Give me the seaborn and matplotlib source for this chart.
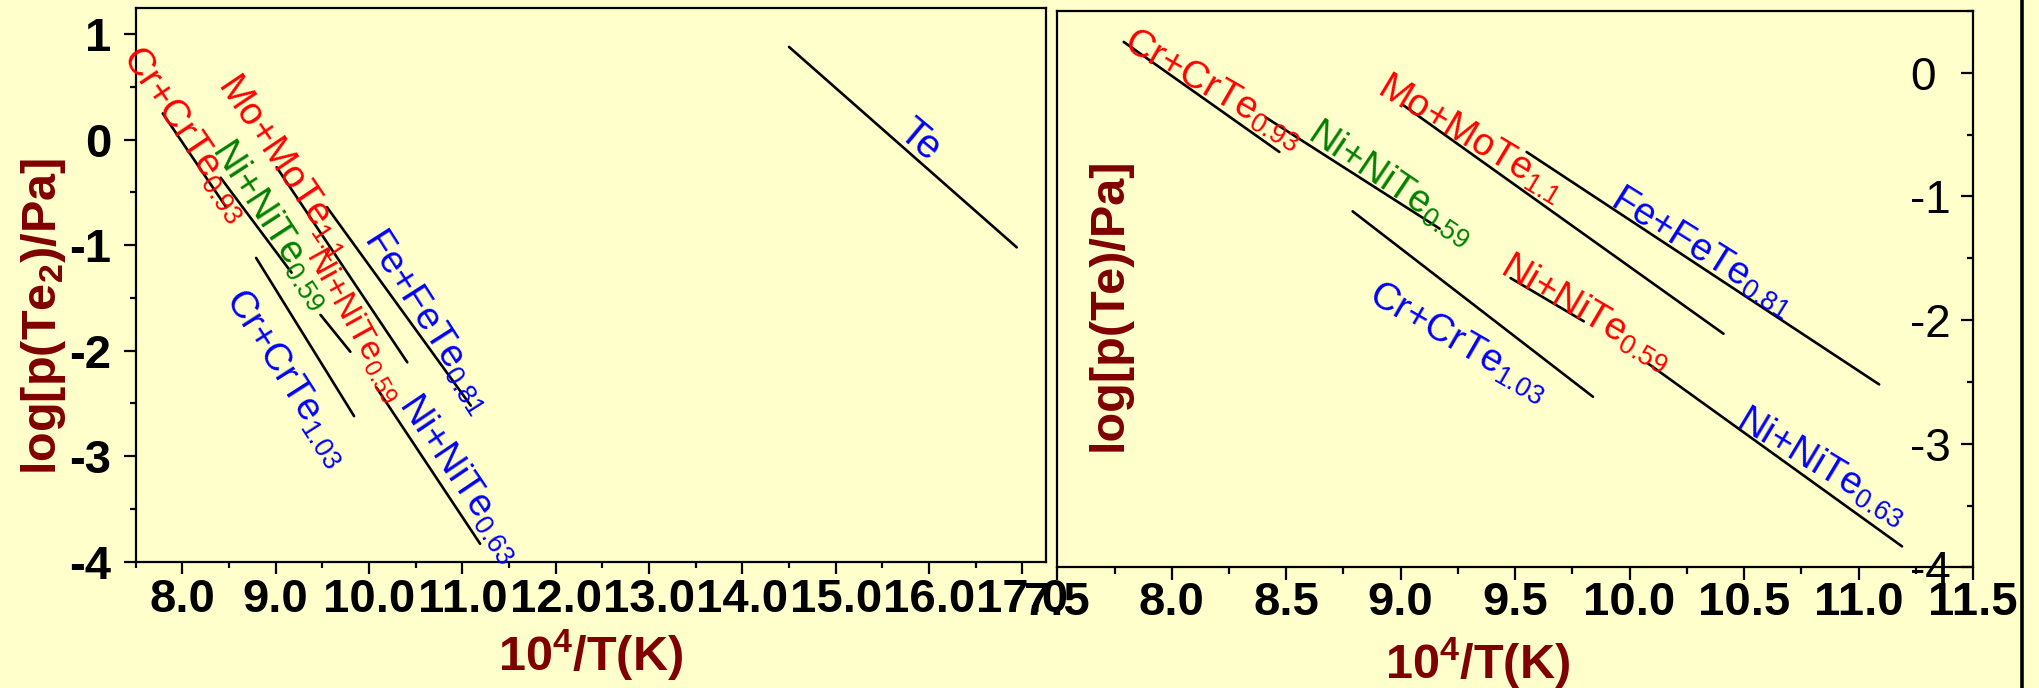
import numpy as np
import pandas as pd
import matplotlib
matplotlib.use("Agg")
import matplotlib.pyplot as plt
import seaborn as sns
from matplotlib.ticker import MultipleLocator, FormatStrFormatter
from matplotlib.lines import Line2D

# ---------------- data ----------------
systems = ["Cr+CrTe0.93", "Ni+NiTe0.59 (a)", "Mo+MoTe1.1", "Fe+FeTe0.81",
           "Cr+CrTe1.03", "Ni+NiTe0.59 (b)", "Ni+NiTe0.63"]
x_start = [7.79, 8.41, 9.01, 9.55, 8.79, 9.48, 10.08]
x_end = [8.47, 9.17, 10.41, 11.09, 9.84, 9.80, 11.19]
logp_start = [0.25, -0.36, -0.26, -0.64, -1.12, -1.66, -2.35]
logp_end = [-0.64, -1.26, -2.11, -2.52, -2.62, -2.01, -3.83]

te_x = [14.50, 16.94]
te_logp = [0.88, -1.02]

label_texts = ["Cr+CrTe$_{\\mathit{0.93}}$", "Ni+NiTe$_{\\mathit{0.59}}$",
               "Mo+MoTe$_{\\mathit{1.1}}$", "Fe+FeTe$_{\\mathit{0.81}}$",
               "Cr+CrTe$_{\\mathit{1.03}}$", "Ni+NiTe$_{\\mathit{0.59}}$",
               "Ni+NiTe$_{\\mathit{0.63}}$"]
label_colors = ["#FF0000", "#008000", "#FF0000", "#0000FF",
                "#0000FF", "#FF0000", "#0000FF"]

left_xticks_step = 1.0
right_xticks_step = 0.5

# label placement (layout): centre in data coords + screen angle
left_lab_x = [8.04, 8.96, 9.09, 10.63, 9.12, 9.85, 10.98]
left_lab_y = [0.06, -0.80, -0.25, -1.72, -2.26, -1.75, -3.21]
left_lab_rot = [-56, -57, -56, -57.5, -57.5, -61, -56]
left_lab_size = [27.5, 27.5, 27.5, 27.5, 27.5, 24.5, 27.5]

right_lab_x = [8.18, 8.96, 9.31, 10.32, 9.25, 9.81, 10.84]
right_lab_y = [-0.13, -0.89, -0.53, -1.45, -2.18, -1.94, -3.18]
right_lab_rot = [-30, -34, -31, -32, -30, -30.5, -31]

# ---------------- style ----------------
sns.set_theme(style="ticks")
BG = "#FFFFCC"
plt.rcParams.update({
    "font.family": ["Liberation Sans", "DejaVu Sans"],
    "font.weight": "bold",
    "axes.unicode_minus": False,
    "mathtext.fontset": "custom",
    "mathtext.rm": "Liberation Sans:weight=normal",
    "mathtext.it": "Liberation Sans:style=italic:weight=normal",
    "mathtext.bf": "Liberation Sans:weight=bold",
    "axes.edgecolor": "black",
    "axes.linewidth": 1.6,
    "xtick.color": "black",
    "ytick.color": "black",
    "axes.facecolor": BG,
    "figure.facecolor": BG,
})

df = pd.DataFrame({
    "system": np.repeat(systems, 2),
    "x": np.ravel(np.column_stack([x_start, x_end])),
    "logp": np.ravel(np.column_stack([logp_start, logp_end])),
})
df_te = pd.DataFrame({"system": ["Te", "Te"], "x": te_x, "logp": te_logp})

fig = plt.figure(figsize=(20.39, 6.88), dpi=100)
ax1 = fig.add_axes([0.06655, 0.18358, 0.4463, 0.80494])
ax2 = fig.add_axes([0.51854, 0.17529, 0.44909, 0.80872])

for ax in (ax1, ax2):
    ax.set_facecolor(BG)
    sns.lineplot(data=df, x="x", y="logp", units="system", estimator=None,
                 color="black", linewidth=1.9, sort=False, legend=False, ax=ax)
    for s in ax.spines.values():
        s.set_visible(True)
        s.set_color("black")
        s.set_linewidth(1.6)

sns.lineplot(data=df_te, x="x", y="logp", units="system", estimator=None,
             color="black", linewidth=1.9, sort=False, legend=False, ax=ax1)

# ---------- left panel ----------
ax1.set_xlim(7.5, 17.25)
ax1.set_ylim(-4, 1.25)
ax1.xaxis.set_major_locator(MultipleLocator(left_xticks_step))
ax1.xaxis.set_minor_locator(MultipleLocator(left_xticks_step / 2))
ax1.xaxis.set_major_formatter(FormatStrFormatter("%.1f"))
ax1.yaxis.set_major_locator(MultipleLocator(1))
ax1.yaxis.set_minor_locator(MultipleLocator(0.5))
ax1.yaxis.set_major_formatter(FormatStrFormatter("%d"))
ax1.tick_params(axis="both", which="both", direction="out", width=1.6,
                top=False, right=False, labelsize=34)
ax1.tick_params(axis="both", which="major", length=8.6)
ax1.tick_params(axis="both", which="minor", length=4.3)
ax1.tick_params(axis="x", which="major", pad=3)
ax1.tick_params(axis="y", which="major", pad=9)

ax1.set_xlabel("10$^{\\mathbf{4}}$/T(K)", color="#800000", fontsize=35,
               fontweight="bold")
ax1.xaxis.set_label_coords(0.5, -0.12)
ax1.set_ylabel("log[p(Te$_{\\mathbf{2}}$)/Pa]", color="#800000", fontsize=35,
               fontweight="bold")
ax1.yaxis.set_label_coords(-0.0744, 0.4437)

for t, c, x, y, r, fs in zip(label_texts, label_colors, left_lab_x,
                             left_lab_y, left_lab_rot, left_lab_size):
    ax1.text(x, y, t, color=c, fontsize=fs, fontweight="normal", rotation=r,
             rotation_mode="anchor", ha="center", va="center")
ax1.text(15.90, 0.0, "Te", color="#0000FF", fontsize=29,
         fontweight="normal", rotation=-40, rotation_mode="anchor",
         ha="center", va="center")

# ---------- right panel ----------
ax2.set_xlim(7.5, 11.5)
ax2.set_ylim(-4, 0.5)
ax2.xaxis.set_major_locator(MultipleLocator(right_xticks_step))
ax2.xaxis.set_minor_locator(MultipleLocator(right_xticks_step / 2))
ax2.xaxis.set_major_formatter(FormatStrFormatter("%.1f"))
ax2.yaxis.set_major_locator(MultipleLocator(1))
ax2.yaxis.set_minor_locator(MultipleLocator(0.5))
ax2.yaxis.set_major_formatter(FormatStrFormatter("%d"))
ax2.tick_params(axis="x", which="both", direction="out", width=1.6,
                top=False, bottom=True, labelsize=34, pad=1)
ax2.tick_params(axis="x", which="major", length=9)
ax2.tick_params(axis="x", which="minor", length=4.8)
ax2.tick_params(axis="y", which="both", direction="in", width=1.6,
                left=False, right=True, labelleft=False, labelright=True,
                labelsize=33, pad=-45.5)
ax2.tick_params(axis="y", which="major", length=8.6)
ax2.tick_params(axis="y", which="minor", length=4.0)
for tk in ax2.yaxis.get_major_ticks():
    tk.label2.set_fontweight("normal")

ax2.set_xlabel("10$^{\\mathbf{4}}$/T(K)", color="#800000", fontsize=35,
               fontweight="bold")
ax2.xaxis.set_label_coords(0.4594, -0.1233)
ax2.set_ylabel("log[p(Te)/Pa]", color="#800000", fontsize=35,
               fontweight="bold")
ax2.yaxis.set_label_position("left")
ax2.yaxis.set_label_coords(0.081, 0.4738)

for t, c, x, y, r in zip(label_texts, label_colors, right_lab_x,
                         right_lab_y, right_lab_rot):
    ax2.text(x, y, t, color=c, fontsize=27.5, fontweight="normal", rotation=r,
             rotation_mode="anchor", ha="center", va="center")

# decorative frame line at right edge of the slide
fig.add_artist(Line2D([0.9919, 0.9919], [0, 1], transform=fig.transFigure,
                      color="black", linewidth=2.6))

fig.savefig("out.png", dpi=100, facecolor=BG)
